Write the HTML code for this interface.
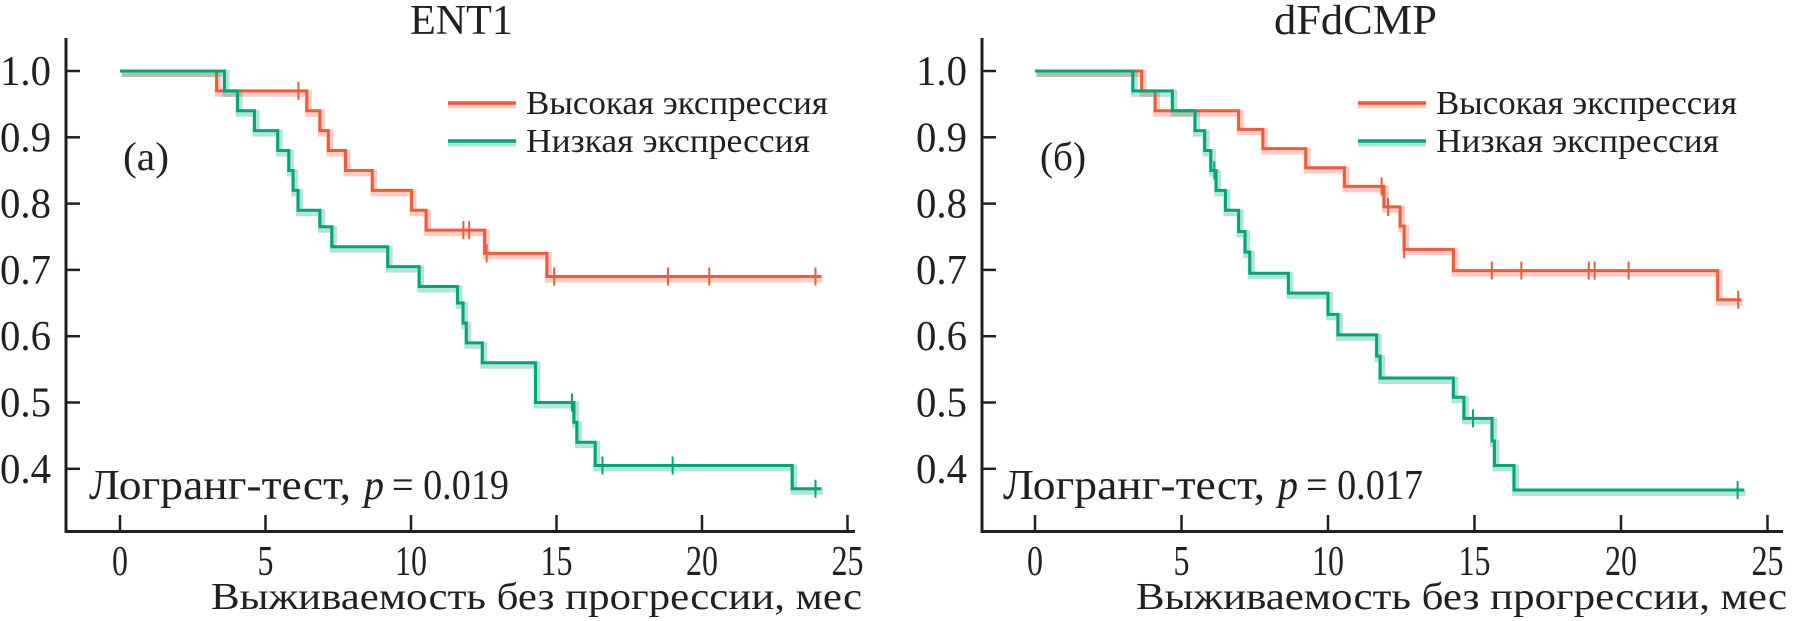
<!DOCTYPE html>
<html><head><meta charset="utf-8"><style>
html,body{margin:0;padding:0;background:#fff;width:1798px;height:621px;overflow:hidden}
svg text{font-family:"Liberation Serif",serif;fill:#231f20}
</style></head><body>
<svg id="chart" width="1798" height="621" viewBox="0 0 1798 621" xmlns="http://www.w3.org/2000/svg"></svg>
<script>
// ---- data: panel A (ENT1) ----
const ticksX = [0, 5, 10, 15, 20, 25];
const ticksY = [1.0, 0.9, 0.8, 0.7, 0.6, 0.5, 0.4];
const tickLabelsY = ["1.0", "0.9", "0.8", "0.7", "0.6", "0.5", "0.4"];
const aHighTimes = [3.32, 6.42, 6.87, 7.16, 7.75, 8.67, 10.02, 10.52, 12.53, 14.67];
const aHighVals  = [0.97, 0.94, 0.91, 0.88, 0.85, 0.82, 0.79, 0.76, 0.725, 0.69];
const aHighCens  = [6.13, 11.8, 12.0, 12.6, 14.92, 18.83, 20.25, 23.9];
const aHighEnd = 24.1;
const aLowTimes = [3.59, 4.04, 4.62, 5.42, 5.8, 5.95, 6.12, 6.87, 7.28, 9.2, 10.28, 11.6, 11.79, 11.9, 12.45, 14.28, 15.6, 15.7, 16.33, 23.1];
const aLowVals  = [0.97, 0.94, 0.91, 0.88, 0.85, 0.82, 0.79, 0.765, 0.735, 0.705, 0.675, 0.65, 0.62, 0.59, 0.56, 0.50, 0.47, 0.44, 0.405, 0.37];
const aLowCens  = [15.53, 16.58, 18.99, 23.9];
const aLowEnd = 24.1;
// ---- data: panel B (dFdCMP) ----
const bHighTimes = [3.64, 4.1, 6.95, 7.78, 9.24, 10.56, 11.91, 12.46, 12.6, 14.28, 23.3];
const bHighVals  = [0.97, 0.94, 0.912, 0.883, 0.854, 0.826, 0.795, 0.766, 0.731, 0.699, 0.655];
const bHighCens  = [11.83, 12.05, 12.6, 15.59, 16.6, 18.9, 19.1, 20.26, 24.0];
const bHighEnd = 24.1;
const bLowTimes = [3.34, 4.69, 5.46, 5.79, 6.0, 6.18, 6.5, 6.95, 7.17, 7.33, 8.65, 10.0, 10.34, 11.66, 11.78, 14.28, 14.64, 15.6, 15.68, 16.35];
const bLowVals  = [0.97, 0.94, 0.91, 0.88, 0.85, 0.82, 0.79, 0.758, 0.727, 0.695, 0.665, 0.633, 0.602, 0.57, 0.537, 0.508, 0.476, 0.442, 0.405, 0.368];
const bLowCens  = [6.12, 14.95, 23.98];
const bLowEnd = 24.2;

const NS = "http://www.w3.org/2000/svg";
const svg = document.getElementById("chart");
const RED = "#ef5a3c", GREEN = "#00a47a";
function el(tag, attrs, parent) {
  const e = document.createElementNS(NS, tag);
  for (const k in attrs) e.setAttribute(k, attrs[k]);
  (parent || svg).appendChild(e);
  return e;
}
function txt(s, x, y, size, anchor, len, parent) {
  const t = el("text", {x: x, y: y, "font-size": size, "text-anchor": anchor || "start"}, parent);
  if (len) { t.setAttribute("textLength", len); t.setAttribute("lengthAdjust", "spacingAndGlyphs"); }
  t.textContent = s;
  return t;
}

function panel(cfg) {
  const g = el("g", {});
  
  
  const X = m => cfg.x0 + m * cfg.px;
  const Y = v => 71 + (1 - v) * 663;
  const ax = el("g", {}, g);
  
  
  el("line", {x1: cfg.axX, y1: 38, x2: cfg.axX, y2: 533, stroke: "#231f20", "stroke-width": 3}, ax);
  el("line", {x1: cfg.axX - 1.5, y1: 531.5, x2: cfg.axEnd, y2: 531.5, stroke: "#231f20", "stroke-width": 3}, ax);
  ticksX.forEach(t => {
    const tk = el("line", {x1: X(t), y1: 531, x2: X(t), y2: 515, stroke: "#231f20", "stroke-width": 2.5}, ax);
    
    
    const lb = txt(String(t), X(t), 575, 42, "middle", String(t).length * 16, ax);
    
    
  });
  ticksY.forEach((t, i) => {
    const tk = el("line", {x1: cfg.axX, y1: Y(t), x2: cfg.axX + 14, y2: Y(t), stroke: "#231f20", "stroke-width": 2.5}, ax);
    
    
    const lb = txt(tickLabelsY[i], cfg.axX - 15, Y(t) + 14, 42, "end", 51, ax);
    
    
  });
  const xt = txt("Выживаемость без прогрессии, мес", cfg.xlabR, 609, 38, "end", 651, g);
  
  
  const ti = txt(cfg.title, cfg.titleX, 34, 42, "start", cfg.titleW, g);
  
  
  const pl = txt(cfg.letter, cfg.letterX, 170, 40, "start", 46, g);
  
  
  const lr = txt("Логранг-тест,", cfg.lrX, 499, 42, "start", 262, g);
  
  
  const lp = txt("p", cfg.lrX + 275, 499, 42, "start", 20, g);
  lp.setAttribute("font-style", "italic");
  
  
  const lv = txt("= " + cfg.p, cfg.lrX + 303, 499, 42, "start", 117, g);
  
  

  function series(times, vals, cens, end, color, name) {
    const sg = el("g", {}, g);
    
    
    let d = "M" + X(0) + "," + Y(1);
    times.forEach((t, i) => { d += " H" + X(t) + " V" + Y(vals[i]); });
    d += " H" + X(end);
    const band = el("path", {d: d, fill: "none", stroke: color, "stroke-opacity": 0.3, "stroke-width": 7, transform: "translate(1.5,2.5)"}, sg);
    
    
    const line = el("path", {d: d, fill: "none", stroke: color, "stroke-width": 3}, sg);
    
    
    cens.forEach(c => {
      let v = 1;
      times.forEach((t, i) => { if (t <= c) v = vals[i]; });
      const m = el("line", {x1: X(c), y1: Y(v) - 9, x2: X(c), y2: Y(v) + 9, stroke: color, "stroke-width": 2}, sg);
      
      
    });
  }
  series(cfg.hT, cfg.hV, cfg.hC, cfg.hE, RED, "high-expression-curve");
  series(cfg.lT, cfg.lV, cfg.lC, cfg.lE, GREEN, "low-expression-curve");

  const lg = el("g", {}, g);
  
  
  [[RED, "Высокая экспрессия", 103, cfg.legW1], [GREEN, "Низкая экспрессия", 141, cfg.legW2]].forEach(r => {
    const e = el("g", {}, lg);
    
    
    el("line", {x1: cfg.legX, y1: r[2] + 2, x2: cfg.legX + 68, y2: r[2] + 2, stroke: r[0], "stroke-opacity": 0.3, "stroke-width": 7}, e);
    el("line", {x1: cfg.legX, y1: r[2], x2: cfg.legX + 68, y2: r[2], stroke: r[0], "stroke-width": 3.5}, e);
    txt(r[1], cfg.legX + 78, r[2] + 11, 34, "start", r[3], e);
  });
}

panel({name: "panel-ent1", x0: 120, px: 29.1, axX: 66, axEnd: 855, xlabR: 862,
  title: "ENT1", titleX: 410, titleW: 103, letter: "(a)", letterX: 123, lrX: 89, p: "0.019",
  hT: aHighTimes, hV: aHighVals, hC: aHighCens, hE: aHighEnd,
  lT: aLowTimes, lV: aLowVals, lC: aLowCens, lE: aLowEnd,
  legX: 448, legW1: 302, legW2: 284});
panel({name: "panel-dfdcmp", x0: 1035, px: 29.3, axX: 982, axEnd: 1783, xlabR: 1787,
  title: "dFdCMP", titleX: 1274, titleW: 163, letter: "(б)", letterX: 1040, lrX: 1003, p: "0.017",
  hT: bHighTimes, hV: bHighVals, hC: bHighCens, hE: bHighEnd,
  lT: bLowTimes, lV: bLowVals, lC: bLowCens, lE: bLowEnd,
  legX: 1358, legW1: 301, legW2: 283});
</script>
</body></html>
